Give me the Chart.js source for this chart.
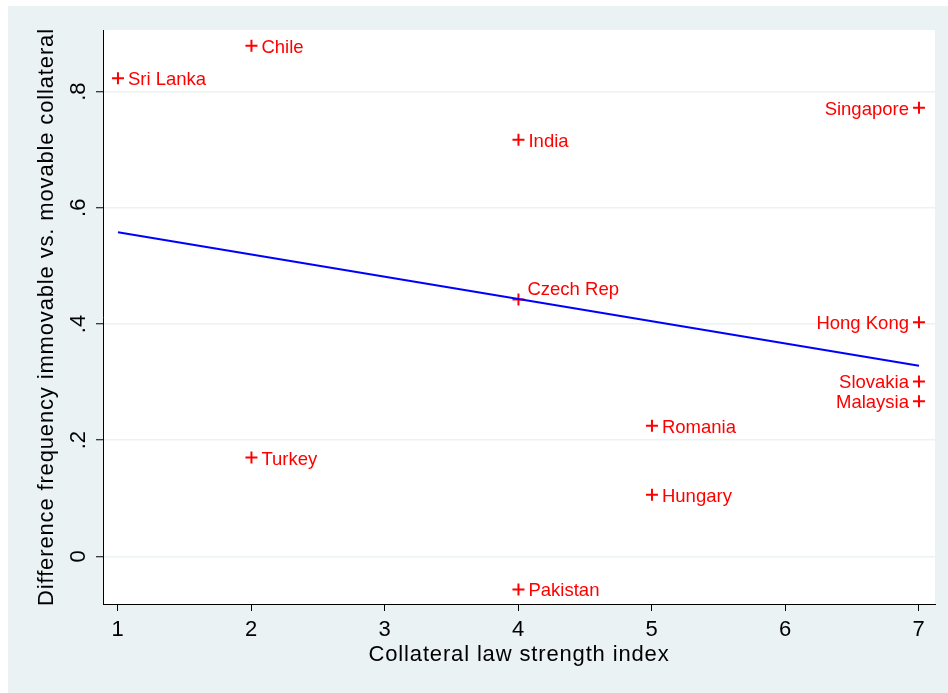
<!DOCTYPE html>
<html>
<head>
<meta charset="utf-8">
<script src="https://cdn.jsdelivr.net/npm/chart.js@4"></script>
<style>
  html, body { margin: 0; padding: 0; background: #ffffff; }
  #wrap { width: 948px; height: 693px; }
</style>
</head>
<body>
<div id="wrap"><canvas id="c" width="948" height="693"></canvas></div>
<script>
// Country observations
const countries = ['Chile', 'Sri Lanka', 'Singapore', 'India', 'Czech Rep', 'Hong Kong',
                   'Slovakia', 'Malaysia', 'Romania', 'Turkey', 'Hungary', 'Pakistan'];
const lawIndex = [2, 1, 7, 4, 4, 7, 7, 7, 5, 2, 5, 4];
const diffFreq = [0.879, 0.823, 0.772, 0.717, 0.442, 0.403, 0.301, 0.267, 0.225, 0.170, 0.106, -0.057];

// Axis ticks
const xTickValues = [1, 2, 3, 4, 5, 6, 7];
const yTickValues = [0, 0.2, 0.4, 0.6, 0.8];
const yTickLabels = ['0', '.2', '.4', '.6', '.8'];

const FONT = "'Liberation Sans', Arial, Helvetica, sans-serif";
const BG = '#EAF2F3';

// Linear least-squares fit of diffFreq on lawIndex
function linearFit(xs, ys) {
  const n = xs.length;
  const mx = xs.reduce((a, b) => a + b, 0) / n;
  const my = ys.reduce((a, b) => a + b, 0) / n;
  let sxy = 0, sxx = 0;
  for (let i = 0; i < n; i++) {
    sxy += (xs[i] - mx) * (ys[i] - my);
    sxx += (xs[i] - mx) * (xs[i] - mx);
  }
  const b = sxy / sxx;
  return { a: my - b * mx, b };
}
const fit = linearFit(lawIndex, diffFreq);
const xLo = Math.min(...lawIndex), xHi = Math.max(...lawIndex);
const fitLine = [xLo, xHi].map(x => ({ x, y: fit.a + fit.b * x }));

const points = lawIndex.map((x, i) => ({ x, y: diffFreq[i] }));

// Where each marker label sits relative to its marker
const labelLeft = new Set(['Singapore', 'Hong Kong', 'Slovakia', 'Malaysia']);
const labelUpRight = new Set(['Czech Rep']);

const backgroundPlugin = {
  id: 'panelBackground',
  beforeDraw(chart) {
    const { ctx, chartArea: ca } = chart;
    ctx.save();
    ctx.fillStyle = '#ffffff';
    ctx.fillRect(0, 0, chart.width, chart.height);
    ctx.fillStyle = BG;
    ctx.fillRect(8, 6, chart.width - 8, chart.height - 6);
    ctx.fillStyle = '#ffffff';
    ctx.fillRect(ca.left, ca.top, ca.right - ca.left, ca.bottom - ca.top);
    ctx.restore();
    // slightly open tracking for the axis titles
    if ('letterSpacing' in ctx) ctx.letterSpacing = '0.85px';
  }
};

const yLabelPlugin = {
  id: 'rotatedYLabels',
  afterDraw(chart) {
    const { ctx } = chart;
    const ys = chart.scales.y;
    ctx.save();
    if ('letterSpacing' in ctx) ctx.letterSpacing = '0px';
    ctx.fillStyle = '#000000';
    ctx.font = `22px ${FONT}`;
    ctx.textAlign = 'center';
    ctx.textBaseline = 'alphabetic';
    yTickValues.forEach((v, i) => {
      const py = ys.getPixelForValue(v);
      ctx.save();
      ctx.translate(ys.right - 18, py);
      ctx.rotate(-Math.PI / 2);
      ctx.fillText(yTickLabels[i], 0, 0);
      ctx.restore();
    });
    ctx.restore();
  }
};

const markerLabelPlugin = {
  id: 'markerLabels',
  afterDatasetsDraw(chart) {
    const { ctx } = chart;
    const meta = chart.getDatasetMeta(1);
    ctx.save();
    if ('letterSpacing' in ctx) ctx.letterSpacing = '0px';
    ctx.fillStyle = '#ff0000';
    ctx.font = `18.5px ${FONT}`;
    ctx.textBaseline = 'alphabetic';
    meta.data.forEach((pt, i) => {
      const name = countries[i];
      if (labelLeft.has(name)) {
        ctx.textAlign = 'right';
        ctx.fillText(name, pt.x - 10, pt.y + 7);
      } else if (labelUpRight.has(name)) {
        ctx.textAlign = 'left';
        ctx.fillText(name, pt.x + 9, pt.y - 5);
      } else {
        ctx.textAlign = 'left';
        ctx.fillText(name, pt.x + 10, pt.y + 7);
      }
    });
    ctx.restore();
  }
};

new Chart(document.getElementById('c'), {
  type: 'scatter',
  data: {
    datasets: [
      {
        type: 'line',
        label: 'Fitted values',
        data: fitLine,
        borderColor: '#0000ff',
        borderWidth: 2,
        pointRadius: 0,
        fill: false,
        tension: 0
      },
      {
        label: 'Countries',
        data: points,
        pointStyle: 'cross',
        pointRadius: 6,
        borderColor: '#ff0000',
        backgroundColor: '#ff0000',
        borderWidth: 2
      }
    ]
  },
  options: {
    responsive: false,
    animation: false,
    events: [],
    layout: { padding: { top: 30, right: 13, left: 0, bottom: 0 } },
    plugins: {
      legend: { display: false },
      tooltip: { enabled: false }
    },
    scales: {
      x: {
        type: 'linear',
        min: 0.888,
        max: 7.12,
        afterBuildTicks: s => { s.ticks = xTickValues.map(v => ({ value: v })); },
        afterFit: s => { s.height = 89; },
        grid: {
          display: true,
          drawOnChartArea: false,
          drawTicks: true,
          tickLength: 7,
          tickColor: '#000000',
          tickWidth: 1
        },
        border: { display: true, color: '#000000', width: 1 },
        ticks: {
          color: '#000000',
          font: { family: FONT, size: 22 },
          padding: 5.5,
          maxRotation: 0,
          minRotation: 0,
          callback: v => String(v)
        },
        title: {
          display: true,
          text: 'Collateral law strength index',
          color: '#000000',
          font: { family: FONT, size: 22 },
          padding: { top: 0, bottom: 25 }
        }
      },
      y: {
        type: 'linear',
        min: -0.082,
        max: 0.906,
        afterBuildTicks: s => { s.ticks = yTickValues.map(v => ({ value: v })); },
        afterFit: s => { s.width = 103; },
        grid: {
          display: true,
          drawOnChartArea: true,
          color: BG,
          lineWidth: 1.5,
          drawTicks: true,
          tickLength: 7,
          tickColor: '#000000',
          tickWidth: 1
        },
        border: { display: true, color: '#000000', width: 1 },
        ticks: { display: false },
        title: {
          display: true,
          text: 'Difference frequency immovable vs. movable collateral',
          color: '#000000',
          font: { family: FONT, size: 22 },
          padding: { top: 34.2, bottom: 0 }
        }
      }
    }
  },
  plugins: [backgroundPlugin, yLabelPlugin, markerLabelPlugin]
});
</script>
</body>
</html>
